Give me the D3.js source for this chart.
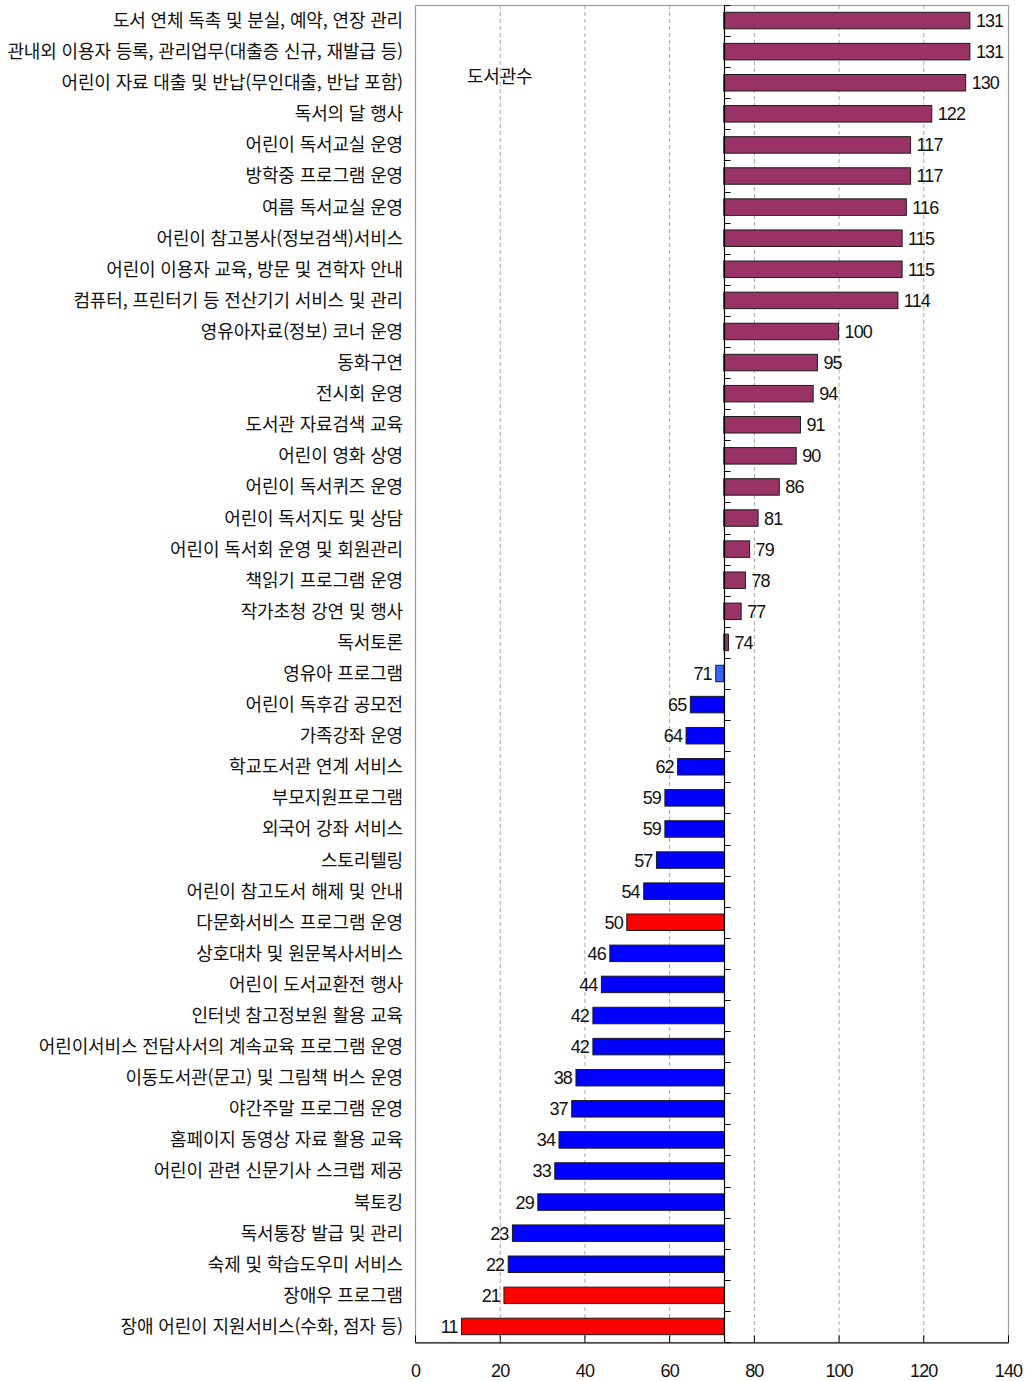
<!DOCTYPE html>
<html lang="ko">
<head>
<meta charset="utf-8">
<title>어린이 서비스 운영 도서관수</title>
<script src="https://cdn.jsdelivr.net/npm/d3@7"></script>
<style>
  html, body { margin: 0; padding: 0; background: #fff; }
  svg { display: block; }
  .cat { font-family: "Noto Sans CJK KR", sans-serif; font-size: 18px; letter-spacing: -0.15px; fill: #111; }
  .val { font-family: "Liberation Sans", Arial, sans-serif; font-size: 18px; letter-spacing: -0.9px; fill: #111; }
  .tick text { font-family: "Liberation Sans", Arial, sans-serif; font-size: 18px; letter-spacing: -0.9px; fill: #111; }
</style>
</head>
<body>
<svg id="chart" width="1031" height="1381"></svg>
<script>
// 서비스 항목 (위에서 아래 순서)
const categories = [
  "도서 연체 독촉 및 분실, 예약, 연장 관리",
  "관내외 이용자 등록, 관리업무(대출증 신규, 재발급 등)",
  "어린이 자료 대출 및 반납(무인대출, 반납 포함)",
  "독서의 달 행사",
  "어린이 독서교실 운영",
  "방학중 프로그램 운영",
  "여름 독서교실 운영",
  "어린이 참고봉사(정보검색)서비스",
  "어린이 이용자 교육, 방문 및 견학자 안내",
  "컴퓨터, 프린터기 등 전산기기 서비스 및 관리",
  "영유아자료(정보) 코너 운영",
  "동화구연",
  "전시회 운영",
  "도서관 자료검색 교육",
  "어린이 영화 상영",
  "어린이 독서퀴즈 운영",
  "어린이 독서지도 및 상담",
  "어린이 독서회 운영 및 회원관리",
  "책읽기 프로그램 운영",
  "작가초청 강연 및 행사",
  "독서토론",
  "영유아 프로그램",
  "어린이 독후감 공모전",
  "가족강좌 운영",
  "학교도서관 연계 서비스",
  "부모지원프로그램",
  "외국어 강좌 서비스",
  "스토리텔링",
  "어린이 참고도서 해제 및 안내",
  "다문화서비스 프로그램 운영",
  "상호대차 및 원문복사서비스",
  "어린이 도서교환전 행사",
  "인터넷 참고정보원 활용 교육",
  "어린이서비스 전담사서의 계속교육 프로그램 운영",
  "이동도서관(문고) 및 그림책 버스 운영",
  "야간주말 프로그램 운영",
  "홈페이지 동영상 자료 활용 교육",
  "어린이 관련 신문기사 스크랩 제공",
  "북토킹",
  "독서통장 발급 및 관리",
  "숙제 및 학습도우미 서비스",
  "장애우 프로그램",
  "장애 어린이 지원서비스(수화, 점자 등)"
];

// 항목별 운영 도서관수
const libraryCounts = [
  131, 131, 130, 122, 117, 117, 116, 115, 115, 114,
  100, 95, 94, 91, 90, 86, 81, 79, 78, 77,
  74, 71, 65, 64, 62, 59, 59, 57, 54, 50,
  46, 44, 42, 42, 38, 37, 34, 33, 29, 23,
  22, 21, 11
];

// 세로축이 가로축과 만나는 값
const crossingValue = 72.9;

// 눈금
const xTicks = [0, 20, 40, 60, 80, 100, 120, 140];

// 따로 강조하는 항목
const focusItems = ["다문화서비스 프로그램 운영", "장애우 프로그램", "장애 어린이 지원서비스(수화, 점자 등)"];
const nearItems = ["영유아 프로그램"];

const seriesLabel = "도서관수";

const rows = categories.map((c, i) => ({ category: c, value: libraryCounts[i] }));

const svg = d3.select("#chart");
const plot = { left: 415, right: 1008, top: 5, bottom: 1342 };

const x = d3.scaleLinear().domain([0, 140]).range([plot.left, plot.right]);
const y = d3.scaleBand()
  .domain(categories)
  .range([plot.top, plot.bottom])
  .paddingInner(0.47)
  .paddingOuter(0.235);

// 세로 격자선
svg.append("g")
  .selectAll("line")
  .data(xTicks.filter(t => t > 0 && t < 140))
  .join("line")
  .attr("x1", d => x(d) + 0.5).attr("x2", d => x(d) + 0.5)
  .attr("y1", plot.top).attr("y2", plot.bottom)
  .attr("stroke", "#a8a8a8")
  .attr("stroke-width", 1)
  .attr("stroke-dasharray", "4,3");

// 테두리
svg.append("rect")
  .attr("x", plot.left + 0.5).attr("y", plot.top + 0.5)
  .attr("width", plot.right - plot.left).attr("height", plot.bottom - plot.top)
  .attr("fill", "none")
  .attr("stroke", "#9a9a9a")
  .attr("stroke-width", 1.2);

function barColor(d) {
  if (focusItems.includes(d.category)) return "#ff0000";
  if (nearItems.includes(d.category)) return "#3366ff";
  return d.value >= crossingValue ? "#993366" : "#0000ff";
}

// 막대
svg.append("g")
  .selectAll("rect")
  .data(rows)
  .join("rect")
  .attr("x", d => Math.min(x(d.value), x(crossingValue)))
  .attr("y", d => y(d.category))
  .attr("width", d => Math.abs(x(d.value) - x(crossingValue)))
  .attr("height", y.bandwidth())
  .attr("fill", barColor)
  .attr("stroke", "#1a1a1a")
  .attr("stroke-width", 1);

// 값 레이블
svg.append("g")
  .selectAll("text")
  .data(rows)
  .join("text")
  .attr("class", "val")
  .attr("x", d => d.value >= crossingValue ? x(d.value) + 6 : x(d.value) - 4)
  .attr("y", d => y(d.category) + y.bandwidth() / 2)
  .attr("dy", "0.36em")
  .attr("text-anchor", d => d.value >= crossingValue ? "start" : "end")
  .text(d => d.value);

// 항목 레이블
svg.append("g")
  .selectAll("text")
  .data(rows)
  .join("text")
  .attr("class", "cat")
  .attr("x", 403)
  .attr("y", d => y(d.category) + y.bandwidth() / 2)
  .attr("dy", "0.36em")
  .attr("text-anchor", "end")
  .text(d => d.category);

// 기준축 (항목 경계 눈금)
const bx = Math.round(x(crossingValue)) + 0.5;
const boundaries = d3.range(categories.length + 1).map(i => plot.top + i * y.step());
const baseAxis = svg.append("g");
baseAxis.append("line")
  .attr("x1", bx).attr("x2", bx)
  .attr("y1", plot.top).attr("y2", plot.bottom)
  .attr("stroke", "#000").attr("stroke-width", 1.2);
baseAxis.selectAll("line.bt")
  .data(boundaries)
  .join("line")
  .attr("class", "bt")
  .attr("x1", bx).attr("x2", bx + 6)
  .attr("y1", d => Math.round(d) + 0.5).attr("y2", d => Math.round(d) + 0.5)
  .attr("stroke", "#000").attr("stroke-width", 1);

// 가로축
const xAxis = d3.axisBottom(x)
  .tickValues(xTicks)
  .tickSizeInner(-7)
  .tickSizeOuter(0)
  .tickPadding(22);
const gx = svg.append("g")
  .attr("transform", `translate(0,${plot.bottom + 0.5})`)
  .call(xAxis);
gx.select(".domain").attr("stroke", "#000").attr("stroke-width", 1.2);
gx.selectAll(".tick line").attr("stroke", "#000");

// 계열 이름
svg.append("text")
  .attr("class", "cat")
  .attr("x", x(20))
  .attr("y", 77)
  .attr("dy", "0.36em")
  .attr("text-anchor", "middle")
  .text(seriesLabel);
</script>
</body>
</html>
